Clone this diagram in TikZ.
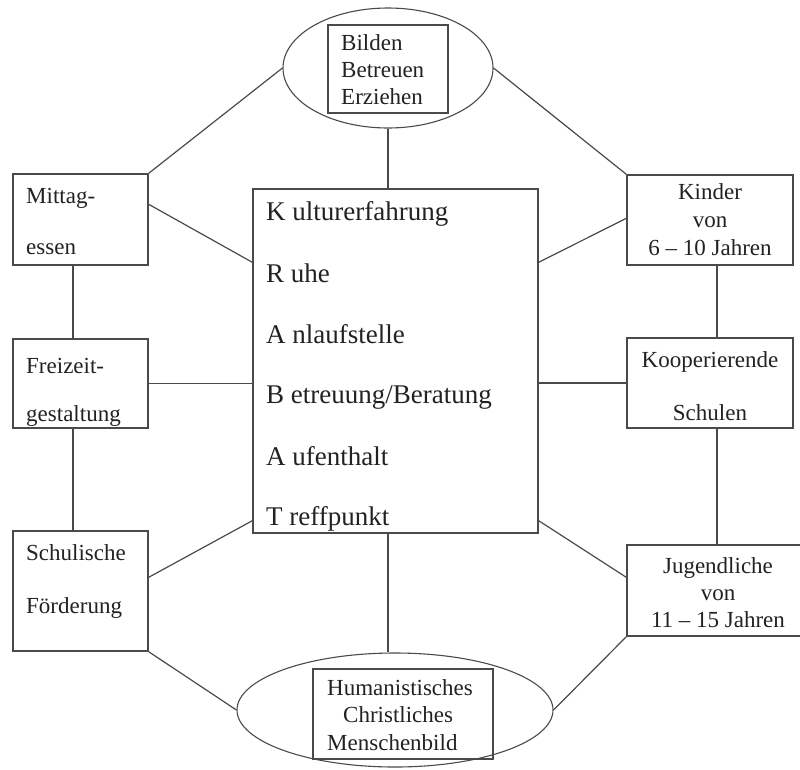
\documentclass[tikz,border=0pt]{standalone}
\usepackage{fontspec}
\setmainfont{Liberation Serif}
\usetikzlibrary{shapes.geometric}
\definecolor{ln}{HTML}{4A4A4A}
\definecolor{tx}{HTML}{222222}
\tikzset{
  box/.style={draw=ln, line width=1.4pt, rectangle, inner sep=0pt},
  oval/.style={draw=ln, line width=1.1pt, ellipse, inner sep=0pt},
  conn/.style={draw=ln, line width=1.2pt},
  lbl/.style={inner sep=0pt, text=tx, font=\fontsize{23}{28}\selectfont},
  big/.style={inner sep=0pt, text=tx, font=\fontsize{27}{32}\selectfont, anchor=base west},
}
\begin{document}
\begin{tikzpicture}[x=1pt,y=-1pt]
\useasboundingbox (0,0) rectangle (800,769);
\clip (0,0) rectangle (800,769);
\fill[white] (0,0) rectangle (800,769);

% top ellipse
\node[oval, minimum width=210pt, minimum height=120pt] (topell) at (388,68) {};
\node[box, minimum width=120pt, minimum height=88pt] (topbox) at (388,69) {};
\node[lbl, anchor=base west] (tb1) at (341,50) {Bilden};
\node[lbl, anchor=base west] (tb2) at (341,77) {Betreuen};
\node[lbl, anchor=base west] (tb3) at (341,104) {Erziehen};

% bottom ellipse
\node[oval, minimum width=316pt, minimum height=114pt] (botell) at (395,710) {};
\node[box, minimum width=180pt, minimum height=90pt] (botbox) at (403,714) {};
\node[lbl, anchor=base west] (bb1) at (327,695) {Humanistisches};
\node[lbl, anchor=base west] (bb2) at (343,722) {Christliches};
\node[lbl, anchor=base west] (bb3) at (327,750) {Menschenbild};

% central box
\node[box, minimum width=285pt, minimum height=344pt] (central) at (395.5,361) {};
\node[big] (c1) at (266,220) {K ulturerfahrung};
\node[big] (c2) at (266,282) {R uhe};
\node[big] (c3) at (266,343) {A nlaufstelle};
\node[big] (c4) at (266,403) {B etreuung/Beratung};
\node[big] (c5) at (266,465) {A ufenthalt};
\node[big] (c6) at (266,525) {T reffpunkt};

% left boxes
\node[box, minimum width=135pt, minimum height=91pt] (mit) at (80.5,219.5) {};
\node[lbl, anchor=base west] (m1) at (26,203) {Mittag-};
\node[lbl, anchor=base west] (m2) at (26,254) {essen};

\node[box, minimum width=135pt, minimum height=89pt] (frei) at (80.5,383.5) {};
\node[lbl, anchor=base west] (f1) at (26,373) {Freizeit-};
\node[lbl, anchor=base west] (f2) at (26,421) {gestaltung};

\node[box, minimum width=135pt, minimum height=120pt] (schul) at (80.5,591) {};
\node[lbl, anchor=base west] (s1) at (26,560) {Schulische};
\node[lbl, anchor=base west] (s2) at (26,613) {Förderung};

% right boxes
\node[box, minimum width=166pt, minimum height=90pt] (kind) at (710,220) {};
\node[lbl, anchor=base] (k1) at (710,199) {Kinder};
\node[lbl, anchor=base] (k2) at (710,227) {von};
\node[lbl, anchor=base] (k3) at (710,255) {6 – 10 Jahren};

\node[box, minimum width=166pt, minimum height=90pt] (koop) at (710,383) {};
\node[lbl, anchor=base] (ko1) at (710,367) {Kooperierende};
\node[lbl, anchor=base] (ko2) at (710,420) {Schulen};

\node[box, minimum width=183pt, minimum height=91pt] (jug) at (718.5,590.5) {};
\node[lbl, anchor=base] (j1) at (718,573) {Jugendliche};
\node[lbl, anchor=base] (j2) at (718,600) {von};
\node[lbl, anchor=base] (j3) at (718,627) {11 – 15 Jahren};

% connectors
\draw[conn] (topell.west) -- (mit.north east);
\draw[conn] (topell.east) -- (kind.north west);
\draw[conn] (topell.south) -- (topell.south |- central.north);
\draw[conn] (topell.south |- central.south) -- (topell.south |- botell.north);

\draw[conn] ([yshift=-31pt]mit.north east) -- ([yshift=-74pt]central.north west);
\draw[conn] (frei.east) -- (central.west |- frei.east);
\draw[conn] ([yshift=-47pt]schul.north east) -- ([yshift=13pt]central.south west);
\draw[conn] (schul.south east) -- (botell.west);

\draw[conn] ([yshift=-44pt]kind.north west) -- ([yshift=-74pt]central.north east);
\draw[conn] (koop.west) -- (central.east |- koop.west);
\draw[conn] ([yshift=-33pt]jug.north west) -- ([yshift=13pt]central.south east);
\draw[conn] (jug.south west) -- (botell.east);

\draw[conn] ([xshift=-7.5pt]mit.south) -- ([xshift=-7.5pt]frei.north);
\draw[conn] ([xshift=-7.5pt]frei.south) -- ([xshift=-7.5pt]schul.north);
\draw[conn] ([xshift=7pt]kind.south) -- ([xshift=7pt]koop.north);
\draw[conn] ([xshift=7pt]koop.south) -- ([xshift=7pt]koop.south |- jug.north);
\end{tikzpicture}
\end{document}
